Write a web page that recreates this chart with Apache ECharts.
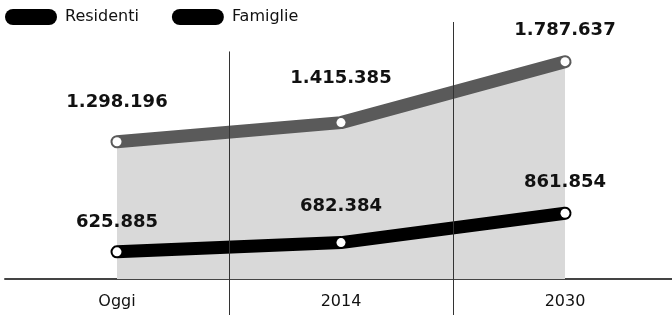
<!DOCTYPE html>
<html>
<head>
<meta charset="utf-8">
<script src="https://cdn.jsdelivr.net/npm/echarts@6/dist/echarts.min.js"></script>
<style>
  html, body { margin: 0; padding: 0; background: #fff; }
  #chart { width: 672px; height: 315px; }
</style>
</head>
<body>
<div id="chart"></div>
<script>
// dati
var periodi = ['Oggi', '2014', '2030'];
var residenti = [1298196, 1415385, 1787637];
var famiglie = [625885, 682384, 861854];
// spazio tra punto ed etichetta
var gapResidenti = [26, 31, 18];
var gapFamiglie = [16, 23, 17];
// separatori verticali (asse nascosto 0..3), dalla cima fino all'asse
var sepX = [1, 2];
var sepTop = [1850000, 2030000];
var yMin = 460000, yMax = 2030000;

function fmt(v) {
    return String(v).replace(/\B(?=(\d{3})+(?!\d))/g, '.');
}

function punti(values, gaps) {
    return values.map(function (v, i) {
        return { value: v, label: { distance: gaps[i] } };
    });
}

var etichetta = {
    show: true,
    position: 'top',
    fontFamily: 'DejaVu Sans',
    fontWeight: 'bold',
    fontSize: 18,
    color: '#111',
    formatter: function (p) { return fmt(p.value); }
};

var pill = 'path://M8,0 H44 A8,8 0 0 1 44,16 H8 A8,8 0 0 1 8,0 Z';

var myChart = echarts.init(document.getElementById('chart'), null, { renderer: 'canvas' });
myChart.setOption({
    animation: false,
    backgroundColor: '#fff',
    legend: {
        left: 5,
        top: 9,
        padding: 0,
        icon: pill,
        itemWidth: 52,
        itemHeight: 16,
        itemGap: 33,
        textStyle: { fontFamily: 'DejaVu Sans', fontSize: 16, color: '#111', padding: [0, 0, 0, 3] },
        data: [
            { name: 'Residenti', itemStyle: { color: '#000', borderWidth: 0 } },
            { name: 'Famiglie', itemStyle: { color: '#000', borderWidth: 0 } }
        ]
    },
    grid: { left: 5, right: -5, top: 22, bottom: 36, outerBoundsMode: 'none', containLabel: false },
    xAxis: [{
        type: 'category',
        data: periodi,
        boundaryGap: true,
        axisLine: { lineStyle: { color: '#444', width: 2 } },
        axisTick: {
            show: true,
            length: 36,
            interval: function (index) { return index > 0; },
            lineStyle: { color: '#333', width: 1 }
        },
        axisLabel: { fontFamily: 'DejaVu Sans', fontSize: 16, color: '#111', margin: 15 },
        splitLine: { show: false }
    }, {
        type: 'value',
        min: 0,
        max: 3,
        show: false
    }],
    yAxis: {
        type: 'value',
        min: yMin,
        max: yMax,
        show: false
    },
    series: [{
        name: 'area',
        type: 'line',
        data: residenti,
        symbol: 'none',
        lineStyle: { width: 0 },
        areaStyle: { color: '#d9d9d9', opacity: 1 },
        z: 1,
        silent: true
    }, {
        name: 'separatori',
        type: 'line',
        xAxisIndex: 1,
        data: [],
        z: 2,
        markLine: {
            silent: true,
            symbol: 'none',
            label: { show: false },
            lineStyle: { color: '#333', width: 1, type: 'solid' },
            data: sepX.map(function (x, i) {
                return [{ coord: [x, sepTop[i]] }, { coord: [x, yMin] }];
            })
        }
    }, {
        name: 'Residenti',
        type: 'line',
        data: punti(residenti, gapResidenti),
        symbol: 'circle',
        symbolSize: 9,
        itemStyle: { color: '#fff', borderWidth: 0 },
        lineStyle: { color: '#5a5a5a', width: 13, cap: 'round' },
        label: etichetta,
        z: 3
    }, {
        name: 'Famiglie',
        type: 'line',
        data: punti(famiglie, gapFamiglie),
        symbol: 'circle',
        symbolSize: 9,
        itemStyle: { color: '#fff', borderWidth: 0 },
        lineStyle: { color: '#000', width: 13, cap: 'round' },
        label: etichetta,
        z: 4
    }]
});
</script>
</body>
</html>
